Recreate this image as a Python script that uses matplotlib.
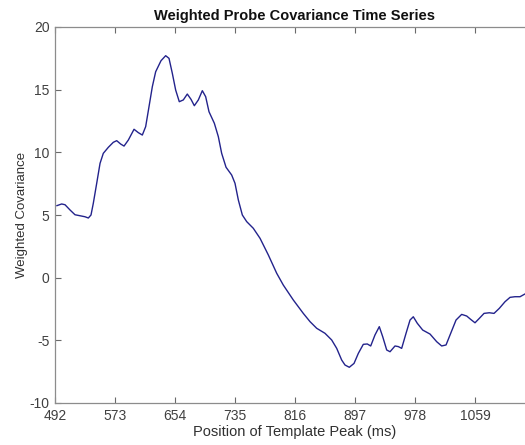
import matplotlib
matplotlib.use("Agg")
import matplotlib.pyplot as plt

plt.rcParams['font.family'] = ['Liberation Sans', 'DejaVu Sans']
plt.rcParams['axes.unicode_minus'] = False

# Template peak position (ms) and weighted covariance
position_ms = [494.3, 501.0, 505.5, 512.3, 519.0, 525.8, 532.5, 537.0, 540.6, 543.7,
               548.3, 552.8, 557.2, 564.0, 570.7, 575.3, 580.7, 585.2, 591.0, 598.7,
               604.5, 609.9, 614.4, 618.9, 623.4, 627.9, 635.1, 641.4, 645.9, 650.4,
               654.9, 659.8, 665.2, 670.6, 675.6, 680.1, 685.5, 690.9, 695.4, 699.9,
               707.1, 712.5, 717.0, 722.9, 730.5, 735.0, 739.5, 744.9, 750.8, 759.7,
               768.8, 780.0, 791.3, 800.2, 813.7, 827.2, 836.3, 845.3, 856.5, 865.5,
               872.3, 879.0, 883.5, 889.3, 895.7, 901.5, 908.2, 913.6, 918.2, 924.0,
               929.8, 934.4, 939.8, 944.3, 951.0, 955.5, 960.0, 965.9, 971.3, 975.7,
               981.1, 988.4, 998.3, 1007.3, 1014.0, 1019.9, 1026.2, 1033.4, 1041.0, 1047.8,
               1053.2, 1059.0, 1064.8, 1071.2, 1078.3, 1084.7, 1091.8, 1099.5, 1106.3, 1113.0,
               1119.8, 1126.5, 1133.3]
covariance = [5.74, 5.88, 5.82, 5.40, 5.02, 4.94, 4.86, 4.76, 5.00, 5.93,
              7.53, 9.12, 9.92, 10.40, 10.80, 10.93, 10.66, 10.50, 10.98, 11.84,
              11.57, 11.38, 12.05, 13.64, 15.24, 16.43, 17.31, 17.71, 17.50, 16.30,
              14.97, 14.04, 14.18, 14.65, 14.23, 13.72, 14.18, 14.92, 14.44, 13.24,
              12.32, 11.25, 9.92, 8.81, 8.19, 7.53, 6.20, 5.00, 4.47, 3.94,
              3.14, 1.81, 0.35, -0.59, -1.78, -2.85, -3.51, -4.04, -4.44, -4.97,
              -5.64, -6.57, -6.97, -7.15, -6.84, -6.04, -5.32, -5.29, -5.45, -4.57,
              -3.91, -4.71, -5.77, -5.91, -5.45, -5.50, -5.64, -4.44, -3.38, -3.12,
              -3.64, -4.18, -4.50, -5.11, -5.45, -5.37, -4.44, -3.38, -2.93, -3.06,
              -3.33, -3.60, -3.25, -2.85, -2.80, -2.85, -2.45, -1.92, -1.57, -1.52,
              -1.52, -1.30, -1.20]

x_ticks = [492, 573, 654, 735, 816, 897, 978, 1059]
y_ticks = [-10, -5, 0, 5, 10, 15, 20]

fig = plt.figure(figsize=(5.25, 4.45), dpi=100)
ax = fig.add_axes([55 / 525, 42 / 445, 480 / 525, 376 / 445])

ax.plot(position_ms, covariance, color='#23238c', linewidth=1.0,
        solid_joinstyle='round', solid_capstyle='round')

ax.set_xlim(492, 1140)
ax.set_ylim(-10, 20)
ax.set_xticks(x_ticks)
ax.set_yticks(y_ticks)

for side in ax.spines.values():
    side.set_color('#8c8c8c')
    side.set_linewidth(0.9)

ax.tick_params(direction='in', length=4, width=0.8, color='#6a6a6a',
               labelsize=10, labelcolor='#404040', top=True, right=True, pad=4)

ax.set_title('Weighted Probe Covariance Time Series', fontsize=10.5,
             fontweight='bold', color='#111111', pad=5)
ax.set_xlabel('Position of Template Peak (ms)', fontsize=10.5, color='#303030', labelpad=2)
ax.set_ylabel('Weighted Covariance', fontsize=9.5, color='#303030', labelpad=1)

fig.savefig('out.png', dpi=100)
